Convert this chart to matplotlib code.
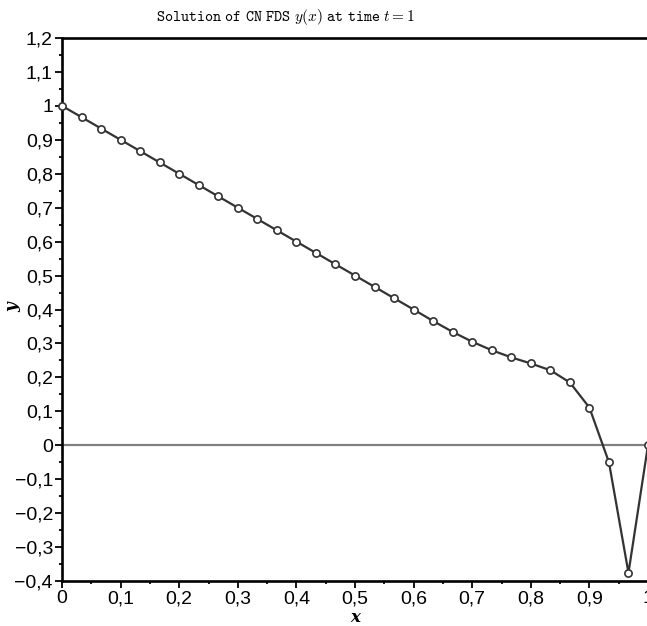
import matplotlib
matplotlib.use("Agg")
import matplotlib.pyplot as plt
from matplotlib.ticker import MultipleLocator, FuncFormatter
import numpy as np

# grid points x = k/30 and the solution values
x_vals = np.arange(31) / 30
y_vals = [1.0, 0.9667, 0.9333, 0.9, 0.8667, 0.8333, 0.8, 0.7667, 0.7333, 0.7,
          0.6667, 0.6333, 0.6, 0.5667, 0.5333, 0.5, 0.4667, 0.4333, 0.4,
          0.366, 0.334, 0.305, 0.280, 0.259, 0.241, 0.221, 0.185, 0.111,
          -0.050, -0.376, 0.0]

x_ticks = np.arange(0, 1.01, 0.1)
y_ticks = np.arange(-0.4, 1.21, 0.1)

plt.rcParams["mathtext.fontset"] = "cm"

fig = plt.figure(figsize=(6.47, 6.26), dpi=100)
ax = fig.add_axes([62 / 647, 45 / 626, 586 / 647, 543 / 626])

ax.axhline(0, color="#808080", lw=1.6, zorder=1)
ax.plot(x_vals, y_vals, color="#333333", lw=1.6, marker="o", markersize=5.2,
        markerfacecolor="white", markeredgecolor="#333333", markeredgewidth=1.2,
        zorder=3, clip_on=False)

ax.set_xlim(0, 1)
ax.set_ylim(-0.4, 1.2)
ax.set_xticks(x_ticks)
ax.set_yticks(y_ticks)
ax.xaxis.set_minor_locator(MultipleLocator(0.05))
ax.yaxis.set_minor_locator(MultipleLocator(0.05))

def comma(v, pos):
    v = round(v, 2)
    if abs(v) < 1e-9:
        return "0"
    s = "%g" % v
    return s.replace("-", "\u2212").replace(".", ",")

ax.xaxis.set_major_formatter(FuncFormatter(comma))
ax.yaxis.set_major_formatter(FuncFormatter(comma))

for sp in ax.spines.values():
    sp.set_linewidth(1.9)
ax.spines["right"].set_visible(False)

ax.tick_params(which="major", direction="out", length=5, width=1.3,
               labelsize=14, pad=1.5)
ax.tick_params(which="minor", direction="out", length=2.5, width=1.3)
for lab in ax.get_xticklabels() + ax.get_yticklabels():
    lab.set_family("Liberation Sans")

fig.text(355 / 647, 1 - 617 / 626, "x", fontsize=12, family="DejaVu Serif",
         style="italic", weight="bold", ha="center", va="center")
fig.text(13 / 647, 1 - 307 / 626, "y", fontsize=12, family="DejaVu Serif",
         style="italic", weight="bold", ha="center", va="center", rotation=90)

fig.text(286 / 647, 1 - 17 / 626,
         r"$\mathtt{Solution\ of\ CN\ FDS}\ y(x)\ \mathtt{at\ time}\ t=1$",
         ha="center", va="center", fontsize=11)

fig.savefig("out.png", dpi=100)
